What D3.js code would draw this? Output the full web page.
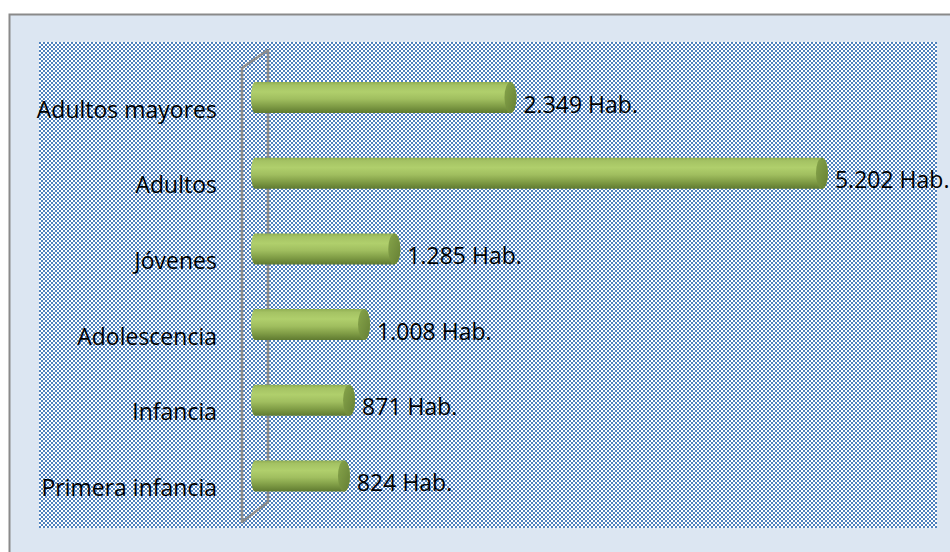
<!DOCTYPE html>
<html>
<head>
<meta charset="utf-8">
<script src="https://cdn.jsdelivr.net/npm/d3@7"></script>
<style>
  html, body { margin: 0; padding: 0; background: #fff; }
  svg { display: block; }
</style>
</head>
<body>
<div id="chart"></div>
<script>
// Population by age group (Hab.)
const categories = ["Adultos mayores", "Adultos", "Jóvenes", "Adolescencia", "Infancia", "Primera infancia"];
const values = [2349, 5202, 1285, 1008, 871, 824];
const valueLabels = ["2.349 Hab.", "5.202 Hab.", "1.285 Hab.", "1.008 Hab.", "871 Hab.", "824 Hab."];

const width = 950;
const height = 552;
const fontFamily = "'Open Sans', sans-serif";
const fontSize = 23;

// Plot area box.
const plot = {x: 39, y: 42, w: 898, h: 486};

const svg = d3.select("#chart")
    .append("svg")
    .attr("width", width)
    .attr("height", height)
    .attr("viewBox", [0, 0, width, height]);

const defs = svg.append("defs");

// Checker texture, painted pixel by pixel so it stays crisp.
const canvas = document.createElement("canvas");
canvas.width = plot.w;
canvas.height = plot.h;
const ctx = canvas.getContext("2d");
ctx.fillStyle = "#ffffff";
ctx.fillRect(0, 0, plot.w, plot.h);
ctx.fillStyle = "#4f81bd";
for (let yy = 0; yy < plot.h; yy += 2) {
    for (let xx = ((yy / 2) % 2) * 2; xx < plot.w; xx += 4) {
        ctx.fillRect(xx, yy, 2, 2);
    }
}

// Cylinder shading.
const bodyGrad = defs.append("linearGradient")
    .attr("id", "body")
    .attr("x1", 0).attr("y1", 0).attr("x2", 0).attr("y2", 1);
[["0%", "#90ae52"], ["10%", "#a4c263"], ["32%", "#b0cf6c"], ["55%", "#a0be5f"], ["78%", "#809d46"], ["100%", "#5f7a30"]]
    .forEach(([o, c]) => bodyGrad.append("stop").attr("offset", o).attr("stop-color", c));

const capGrad = defs.append("linearGradient")
    .attr("id", "cap")
    .attr("x1", 0).attr("y1", 0).attr("x2", 1).attr("y2", 1);
[["0%", "#87a54b"], ["100%", "#657f34"]]
    .forEach(([o, c]) => capGrad.append("stop").attr("offset", o).attr("stop-color", c));

// Chart frame.
svg.append("rect")
    .attr("x", 9.5)
    .attr("y", 14.5)
    .attr("width", width + 10)
    .attr("height", height + 10)
    .attr("fill", "#dce6f2")
    .attr("stroke", "#8a8a8a")
    .attr("stroke-width", 2);

// Plot area.
svg.append("image")
    .attr("x", plot.x)
    .attr("y", plot.y)
    .attr("width", plot.w)
    .attr("height", plot.h)
    .attr("preserveAspectRatio", "none")
    .attr("style", "image-rendering: pixelated")
    .attr("href", canvas.toDataURL("image/png"));

// Scales.
const x = d3.scaleLinear()
    .domain([0, 6000])
    .range([260, 915.1]);

const y = d3.scalePoint()
    .domain(categories)
    .range([97.5, 476]);

// 3D axis wall.
svg.append("path")
    .attr("fill", "none")
    .attr("stroke", "#8c8c8c")
    .attr("stroke-width", 2.5)
    .attr("stroke-linejoin", "round")
    .attr("d", "M242,522 L242,68 L268,50 L268,502 Z");

const rx = 6;
const ry = 15.5;

const bars = svg.append("g")
    .selectAll("g")
    .data(categories)
    .join("g");

bars.append("path")
    .attr("fill", "url(#body)")
    .attr("d", (d, i) => {
        const x0 = x(0) - 9;
        const x1 = x(values[i]);
        const cy = y(d);
        return `M${x0 + 4},${cy - ry} L${x1 - rx},${cy - ry}` +
            `A${rx},${ry} 0 0,1 ${x1 - rx},${cy + ry}` +
            `L${x0 + 4},${cy + ry}` +
            `A4,${ry} 0 0,1 ${x0 + 4},${cy - ry}Z`;
    });

bars.append("ellipse")
    .attr("cx", (d, i) => x(values[i]) - rx)
    .attr("cy", d => y(d))
    .attr("rx", rx)
    .attr("ry", ry)
    .attr("fill", "url(#cap)");

// Value labels.
bars.append("text")
    .attr("x", (d, i) => x(values[i]) + 7)
    .attr("y", d => y(d) + 15)
    .attr("font-family", fontFamily)
    .attr("font-size", fontSize)
    .attr("fill", "#000")
    .text((d, i) => valueLabels[i]);

// Category labels.
svg.append("g")
    .attr("font-family", fontFamily)
    .attr("font-size", fontSize)
    .attr("text-anchor", "end")
    .selectAll("text")
    .data(categories)
    .join("text")
        .attr("x", 217)
        .attr("y", d => y(d) + 20)
        .attr("fill", "#000")
        .text(d => d);
</script>
</body>
</html>
